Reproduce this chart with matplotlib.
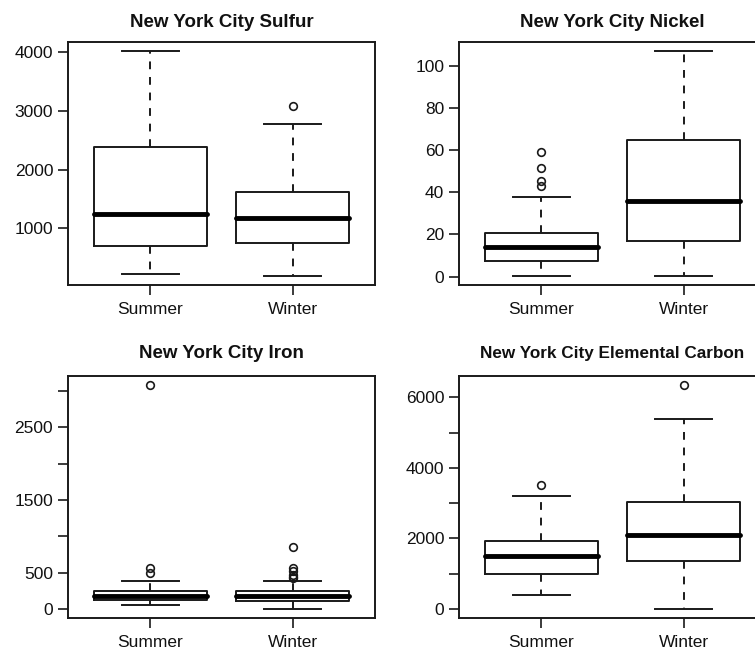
import numpy as np
import matplotlib.pyplot as plt

plt.rcParams['font.family'] = ['Liberation Sans', 'DejaVu Sans']

seasons = ['Summer', 'Winter']

# [whisker low, Q1, median, Q3, whisker high] per season
sulfur_stats = [[232, 698, 1239, 2377, 4020], [192, 755, 1171, 1626, 2782]]
sulfur_out = [[], [3078]]
nickel_stats = [[0.3, 7.3, 14.0, 20.7, 37.9], [0.3, 16.9, 35.8, 65.0, 107.2]]
nickel_out = [[43.2, 45.4, 51.5, 59.4], []]
iron_stats = [[55, 128, 174, 243, 391], [0, 115, 180, 253, 391]]
iron_out = [[500, 560, 3088], [423, 442, 474, 519, 566, 856]]
carbon_stats = [[386, 992, 1492, 1937, 3212], [0, 1350, 2087, 3023, 5387]]
carbon_out = [[3505], [6360]]

titles = ['New York City Sulfur', 'New York City Nickel',
          'New York City Iron', 'New York City Elemental Carbon']
yticks = [[1000, 2000, 3000, 4000],
          [0, 20, 40, 60, 80, 100],
          [0, 500, 1000, 1500, 2000, 2500, 3000],
          [0, 1000, 2000, 3000, 4000, 5000, 6000]]
ylabels = [['1000', '2000', '3000', '4000'],
           ['0', '20', '40', '60', '80', '100'],
           ['0', '500', '', '1500', '', '2500', ''],
           ['0', '', '2000', '', '4000', '', '6000']]
panels = [(sulfur_stats, sulfur_out), (nickel_stats, nickel_out),
          (iron_stats, iron_out), (carbon_stats, carbon_out)]

ink = '#1a1a1a'
fig = plt.figure(figsize=(7.55, 6.58), dpi=100)
rects = [[0.090, 0.567, 0.4066, 0.3693], [0.608, 0.567, 0.4066, 0.3693],
         [0.090, 0.061, 0.4066, 0.3678], [0.608, 0.061, 0.4066, 0.3678]]

for i, (stats, outs) in enumerate(panels):
    ax = fig.add_axes(rects[i])
    bxp_stats = []
    for s, o, name in zip(stats, outs, seasons):
        bxp_stats.append(dict(whislo=s[0], q1=s[1], med=s[2], q3=s[3],
                              whishi=s[4], fliers=o, label=name))
    ax.bxp(bxp_stats, positions=[1, 2], widths=0.8, capwidths=0.4,
           boxprops=dict(color=ink, linewidth=1.4),
           whiskerprops=dict(color=ink, linewidth=1.4, linestyle=(0, (4, 4))),
           capprops=dict(color=ink, linewidth=1.4),
           medianprops=dict(color='black', linewidth=3.5, solid_capstyle='round'),
           flierprops=dict(marker='o', markerfacecolor='none', markeredgecolor=ink,
                           markersize=5.5, markeredgewidth=1.2))
    allv = [v for s in stats for v in s] + [v for o in outs for v in o]
    lo, hi = min(allv), max(allv)
    pad = 0.04 * (hi - lo)
    ax.set_ylim(lo - pad, hi + pad)
    ax.set_xlim(0.42, 2.58)
    ax.set_yticks(yticks[i], ylabels[i])
    ax.set_xticks([1, 2], seasons)
    ax.tick_params(axis='both', direction='out', length=7.2, width=1.2,
                   colors=ink, labelsize=12.5, labelcolor='#111111')
    ax.tick_params(axis='y', pad=3.4)
    ax.tick_params(axis='x', pad=5.0)
    for sp in ax.spines.values():
        sp.set_linewidth(1.4)
        sp.set_color(ink)
    # the long carbon title is set a bit smaller so it stays inside the image
    tsize = 12.3 if i == 3 else 13.5
    ax.set_title(titles[i], fontsize=tsize, fontweight='bold', pad=11 if i < 2 else 12.5,
                 color='#111111')

plt.savefig('out.png', dpi=100)
